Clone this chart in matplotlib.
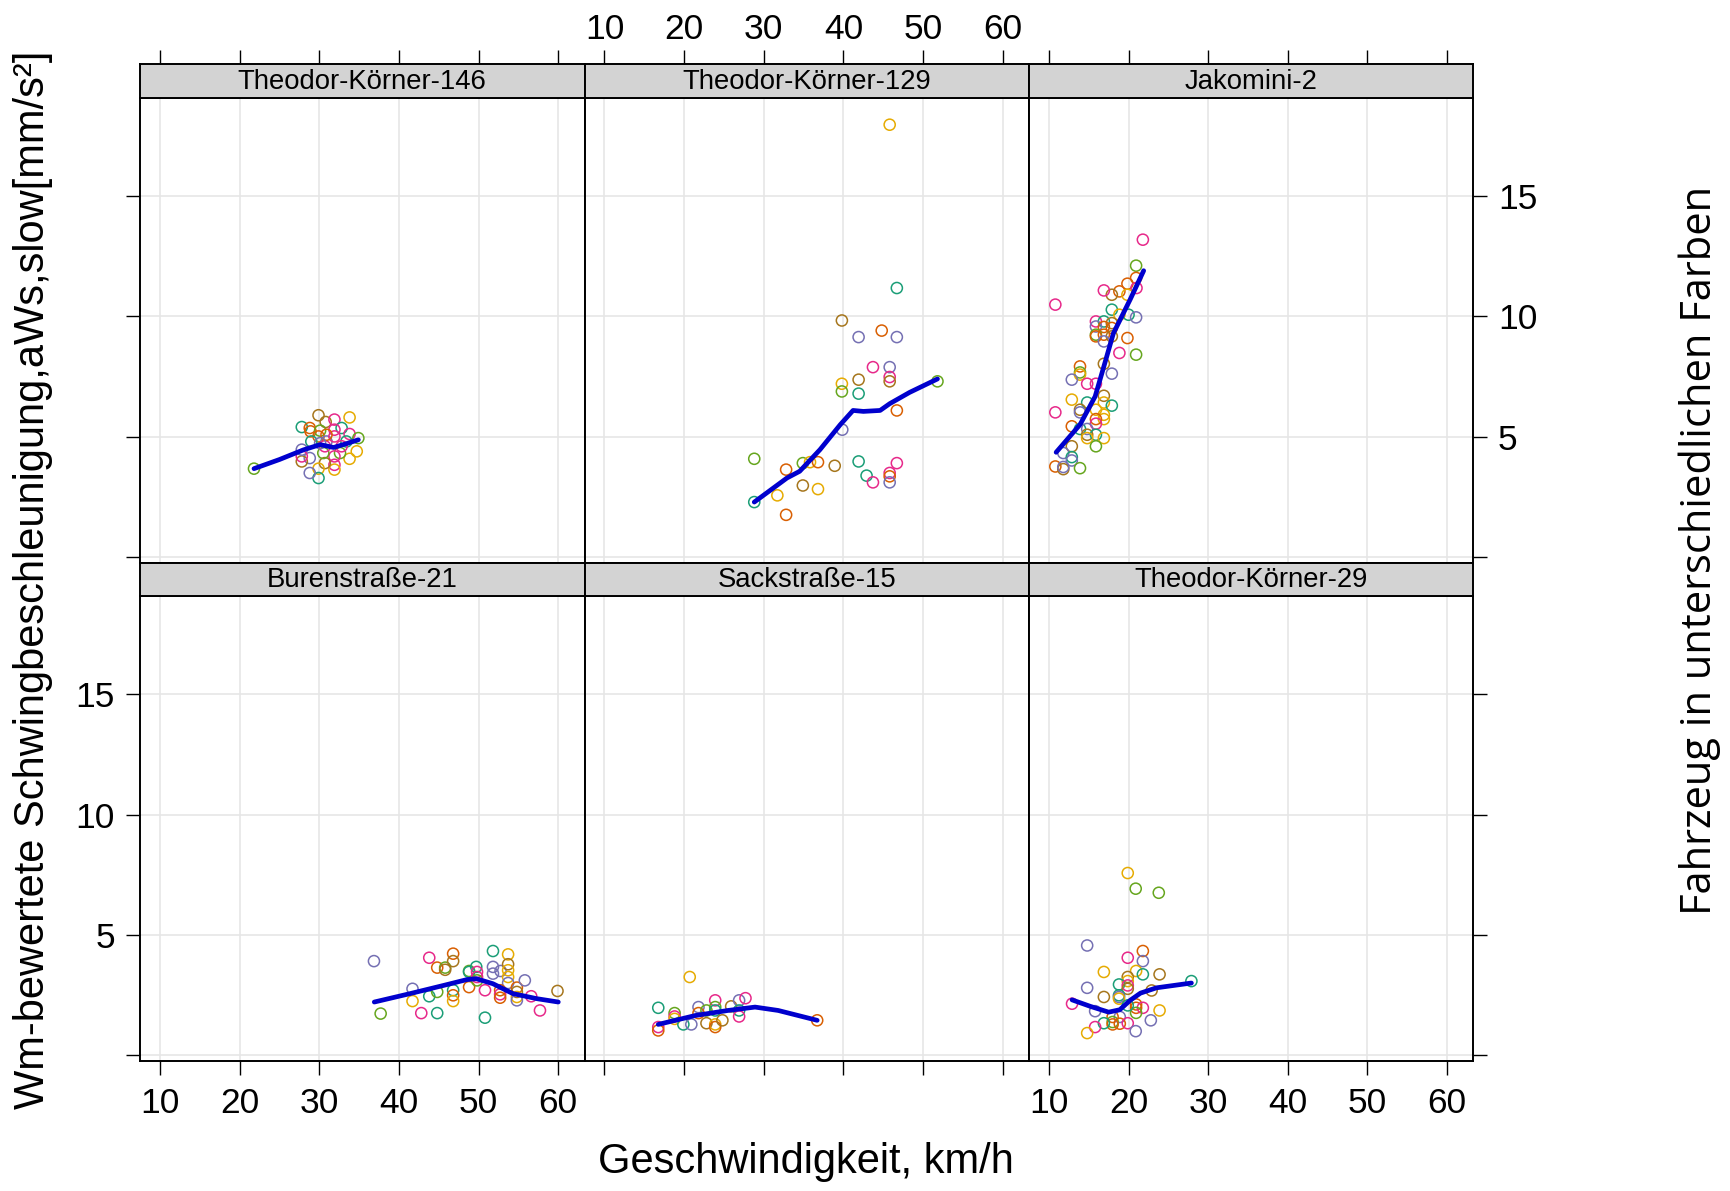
import numpy as np
import matplotlib
matplotlib.use("Agg")
import matplotlib.pyplot as plt

plt.rcParams["font.family"] = ["Liberation Sans", "DejaVu Sans"]

# vehicle index -> 0 teal, 1 orange, 2 purple, 3 pink, 4 green, 5 yellow, 6 brown
palette = ["#1B9E77", "#D95F02", "#7570B3", "#E7298A", "#66A61E", "#E6AB02", "#A6761D"]

sites = ["Theodor-Körner-146", "Theodor-Körner-129", "Jakomini-2",
         "Burenstraße-21", "Sackstraße-15", "Theodor-Körner-29"]

x1 = [21.8, 27.8, 28.8, 28.9, 29.9, 30.8, 31.9, 33.8, 32.8, 31.9, 30.1, 29.9, 29.0, 30.9, 31.9, 33.8, 34.9, 33.4, 34.7,
      33.8, 32.6, 31.9, 31.9, 31.9, 30.7, 29.9, 29.9, 28.8, 28.8, 27.8, 27.8, 27.8, 30.5, 30.7, 32.8, 30.9, 30.1]
y1 = [3.67, 5.40, 5.36, 5.22, 5.89, 5.61, 5.71, 5.80, 5.36, 5.29, 5.25, 5.01, 4.80, 4.80, 5.01, 5.11, 4.94, 4.80, 4.39,
      4.08, 4.32, 4.18, 3.83, 3.63, 3.90, 3.67, 3.28, 3.49, 4.11, 3.97, 4.46, 4.18, 4.32, 4.60, 4.60, 5.08, 4.73]
v1 = [4, 0, 1, 1, 6, 6, 3, 5, 0, 3, 4, 1, 0, 2, 3, 3, 4, 0, 5,
      5, 4, 3, 3, 5, 6, 5, 0, 2, 2, 6, 2, 3, 4, 3, 3, 1, 2]
l1x = [21.8, 25.0, 28.0, 30.1, 31.8, 33.5, 34.9]
l1y = [3.67, 4.05, 4.45, 4.67, 4.55, 4.72, 4.87]

x2 = [45.8, 46.7, 39.8, 41.9, 44.8, 46.7, 43.7, 45.8, 45.8, 45.8, 41.9, 39.8, 39.8, 41.9, 51.8, 46.7, 39.85, 28.8,
      32.8, 34.9, 35.8, 36.8, 38.9, 41.9, 42.9, 43.7, 45.8, 45.8, 45.8, 46.7, 34.9, 36.8, 31.7, 28.8, 32.8]
y2 = [17.97, 11.18, 9.83, 9.14, 9.41, 9.14, 7.89, 7.89, 7.48, 7.30, 7.37, 7.20, 6.88, 6.79, 7.30, 6.09, 5.29, 4.08,
      3.63, 3.90, 3.94, 3.94, 3.79, 3.97, 3.38, 3.10, 3.49, 3.35, 3.10, 3.90, 2.97, 2.82, 2.56, 2.28, 1.75]
v2 = [5, 0, 6, 2, 1, 2, 3, 2, 3, 6, 6, 5, 4, 0, 4, 1, 2, 4,
      1, 4, 5, 1, 6, 0, 0, 3, 3, 1, 2, 3, 6, 5, 5, 0, 1]
l2x = [28.8, 32.9, 34.5, 37.05, 39.6, 41.2, 42.5, 44.6, 45.8, 48.3, 51.8]
l2y = [2.28, 3.28, 3.56, 4.46, 5.50, 6.09, 6.05, 6.09, 6.37, 6.84, 7.40]

x3 = [21.8, 20.95, 20.95, 19.86, 21.0, 18.85, 17.9, 16.9, 19.86, 10.8, 17.9, 18.85, 20.0, 20.95, 15.9, 16.9, 17.9,
      15.9, 16.9, 17.9, 15.9, 16.9, 17.9, 15.9, 16.9, 19.86, 18.85, 20.95, 16.9, 13.9, 13.9, 13.9, 12.87, 17.9, 14.8,
      15.9, 16.9, 12.87, 14.8, 16.9, 17.9, 15.9, 13.9, 13.9, 16.9, 10.8, 16.9, 15.9, 15.9, 12.87, 13.9, 14.8, 14.8,
      15.9, 14.8, 16.9, 15.9, 12.87, 11.8, 12.87, 12.87, 10.8, 11.8, 11.8, 13.9]
y3 = [13.19, 12.11, 11.6, 11.36, 11.18, 11.04, 10.9, 11.08, 10.9, 10.49, 10.28, 10.07, 10.07, 9.96, 9.79, 9.79, 9.72,
      9.58, 9.56, 9.52, 9.24, 9.24, 9.17, 9.17, 8.96, 9.1, 8.48, 8.41, 8.03, 7.92, 7.67, 7.58, 7.37, 7.62, 7.2,
      7.2, 6.7, 6.54, 6.42, 6.42, 6.29, 6.12, 6.12, 6.01, 5.91, 6.01, 5.73, 5.73, 5.54, 5.43, 5.32, 5.32, 5.08,
      5.08, 4.94, 4.94, 4.6, 4.6, 4.32, 4.15, 4.01, 3.76, 3.65, 3.74, 3.69]
v3 = [3, 4, 1, 1, 3, 1, 6, 3, 5, 3, 0, 5, 0, 2, 3, 0, 6,
      2, 1, 1, 4, 1, 6, 1, 2, 1, 3, 4, 6, 1, 4, 5, 2, 2, 3,
      3, 6, 5, 0, 5, 0, 5, 6, 2, 5, 3, 5, 1, 3, 1, 0, 2, 6,
      0, 5, 5, 4, 6, 2, 0, 2, 1, 6, 2, 4]
l3x = [10.9, 13.9, 15.8, 16.9, 18.1, 20.2, 21.9]
l3y = [4.35, 5.5, 6.67, 7.92, 9.3, 10.7, 11.9]

x4 = [36.86, 37.7, 41.7, 41.7, 43.8, 42.8, 43.8, 44.8, 45.8, 45.8, 44.8, 44.8, 46.8, 46.8, 46.8, 46.8, 46.8, 48.8,
      48.8, 48.8, 49.7, 49.8, 49.8, 50.8, 50.8, 51.8, 51.8, 51.8, 52.75, 53.7, 53.7, 53.7, 53.7, 53.7, 52.7, 52.7,
      52.7, 54.8, 54.8, 54.8, 54.8, 55.8, 56.6, 57.7, 59.9, 49.8]
y4 = [3.91, 1.73, 2.76, 2.25, 4.05, 1.75, 2.45, 3.64, 3.64, 3.55, 2.63, 1.75, 4.22, 3.91, 2.7, 2.49, 2.25, 3.5,
      3.46, 2.83, 3.67, 3.46, 3.11, 2.7, 1.56, 4.33, 3.67, 3.39, 3.5, 4.19, 3.78, 3.53, 3.25, 3.0, 2.7, 2.53,
      2.39, 2.81, 2.63, 2.42, 2.28, 3.11, 2.45, 1.86, 2.67, 3.25]
v4 = [2, 4, 2, 5, 3, 3, 0, 1, 4, 6, 4, 0, 1, 6, 0, 1, 5, 4,
      0, 1, 0, 3, 4, 3, 0, 0, 2, 2, 2, 5, 6, 5, 5, 2, 1, 3,
      1, 1, 6, 5, 2, 2, 3, 3, 6, 3]
l4x = [36.9, 41.4, 45.6, 48.5, 49.7, 51.8, 54.3, 57.3, 60.0]
l4y = [2.21, 2.56, 2.9, 3.14, 3.18, 2.97, 2.56, 2.35, 2.21]

x5 = [20.7, 16.75, 16.75, 16.75, 18.8, 18.8, 18.8, 19.9, 20.9, 21.8, 21.8, 22.8, 22.8, 23.9, 23.9, 23.9, 23.9, 23.9,
      24.8, 25.9, 26.9, 26.9, 26.9, 27.7, 36.7]
y5 = [3.25, 1.97, 1.17, 1.03, 1.75, 1.61, 1.51, 1.28, 1.28, 2.0, 1.75, 1.86, 1.33, 2.28, 2.0, 1.86, 1.28, 1.17,
      1.45, 2.03, 2.28, 1.86, 1.61, 2.37, 1.45]
v5 = [5, 0, 3, 1, 4, 3, 5, 0, 2, 2, 1, 4, 6, 3, 4, 0, 5, 1,
      6, 6, 2, 0, 3, 3, 1]
l5x = [16.75, 21.4, 25.5, 28.9, 31.8, 36.7]
l5y = [1.28, 1.65, 1.86, 2.0, 1.86, 1.45]

x6 = [19.9, 20.9, 23.8, 14.8, 21.8, 19.9, 21.8, 16.9, 20.95, 21.8, 23.9, 19.9, 19.9, 18.8, 19.9, 19.9, 14.8, 22.9,
      18.8, 18.8, 18.8, 16.9, 27.9, 12.9, 15.8, 20.95, 20.95, 21.8, 20.95, 23.9, 18.0, 18.9, 19.9, 18.0, 18.0, 18.9,
      19.9, 16.9, 15.8, 14.8, 20.9, 22.8]
y6 = [7.57, 6.92, 6.75, 4.56, 4.33, 4.05, 3.91, 3.46, 3.5, 3.36, 3.36, 3.25, 3.08, 2.94, 2.9, 2.76, 2.8, 2.69,
      2.49, 2.42, 2.35, 2.42, 3.08, 2.14, 1.83, 2.11, 1.97, 1.97, 1.76, 1.86, 1.59, 1.59, 2.07, 1.38, 1.28, 1.31,
      1.33, 1.33, 1.17, 0.92, 1.0, 1.45]
v6 = [5, 4, 4, 2, 1, 3, 2, 5, 5, 0, 6, 6, 5, 0, 3, 6, 2, 6,
      0, 2, 5, 6, 0, 3, 2, 1, 1, 3, 4, 5, 1, 2, 0, 4, 1, 1,
      3, 0, 3, 5, 2, 2]
l6x = [12.9, 15.2, 17.5, 18.9, 20.2, 21.5, 23.5, 27.9]
l6y = [2.3, 2.03, 1.79, 1.89, 2.28, 2.58, 2.8, 3.0]

panels = [(x1, y1, v1, l1x, l1y), (x2, y2, v2, l2x, l2y), (x3, y3, v3, l3x, l3y),
          (x4, y4, v4, l4x, l4y), (x5, y5, v5, l5x, l5y), (x6, y6, v6, l6x, l6y)]

xticks = [10, 20, 30, 40, 50, 60]
yticks = [0, 5, 10, 15]

W, H = 1730, 1191
fig = plt.figure(figsize=(W / 100, H / 100), dpi=100)

lefts = [140, 584.5, 1029, 1473]
rows = [(64, 98, 562.7), (562.7, 596, 1061)]  # strip top, plot top, plot bottom

def box(x0, x1, y0, y1):
    return [x0 / W, 1 - y1 / H, (x1 - x0) / W, (y1 - y0) / H]

TS = 25.5
for i, (px, py, pv, lx, ly) in enumerate(panels):
    r, c = divmod(i, 3)
    st, pt, pb = rows[r]
    ax = fig.add_axes(box(lefts[c], lefts[c + 1], pt, pb))
    sax = fig.add_axes(box(lefts[c], lefts[c + 1], st, pt))

    ax.set_xlim(7.49, 63.29)
    ax.set_ylim(-0.24, 19.08)
    ax.set_xticks(xticks)
    ax.set_yticks(yticks)
    ax.grid(True, color="#E6E6E6", lw=1.2)
    ax.set_axisbelow(True)
    ax.scatter(px, py, s=64, facecolors="none", edgecolors=[palette[k] for k in pv], linewidths=1.1, zorder=3)
    ax.plot(lx, ly, color="#0000CD", lw=3.4, solid_capstyle="round", solid_joinstyle="round", zorder=4)
    for sp in ax.spines.values():
        sp.set_linewidth(1.4)

    ax.tick_params(direction="out", length=10, width=1, labelsize=TS,
                   bottom=(r == 1), labelbottom=(r == 1 and c != 1),
                   left=(c == 0), labelleft=(c == 0 and r == 1),
                   right=(c == 2), labelright=(c == 2 and r == 0),
                   top=False, labeltop=False)
    ax.tick_params(axis="x", pad=9)
    ax.tick_params(axis="y", pad=8)
    if c == 0 and r == 1:
        ax.set_yticklabels(["", "5", "10", "15"])
    if c == 2 and r == 0:
        ax.set_yticklabels(["", "5", "10", "15"])

    sax.set_facecolor("#D3D3D3")
    sax.set_xlim(7.49, 63.29)
    sax.set_yticks([])
    sax.set_xticks(xticks if r == 0 else [])
    sax.tick_params(direction="out", length=10, width=1, labelsize=TS, pad=3,
                    bottom=False, labelbottom=False, top=(r == 0), labeltop=(r == 0 and c == 1))
    for sp in sax.spines.values():
        sp.set_linewidth(1.4)
    sax.text(0.5, 0.47, sites[i], transform=sax.transAxes, ha="center", va="center", fontsize=19.8)

fig.text(806 / W, 1 - 1162 / H, "Geschwindigkeit, km/h", ha="center", va="center", fontsize=30)
fig.text(33 / W, 1 - 580 / H, "Wm-bewertete Schwingbeschleunigung,aWs,slow[mm/s²]",
         ha="center", va="center", rotation=90, fontsize=30)
fig.text(1700 / W, 1 - 550 / H, "Fahrzeug in unterschiedlichen Farben", ha="center", va="center",
         rotation=90, fontsize=30, family=["Open Sans", "DejaVu Sans"])

fig.savefig("out.png", dpi=100)
